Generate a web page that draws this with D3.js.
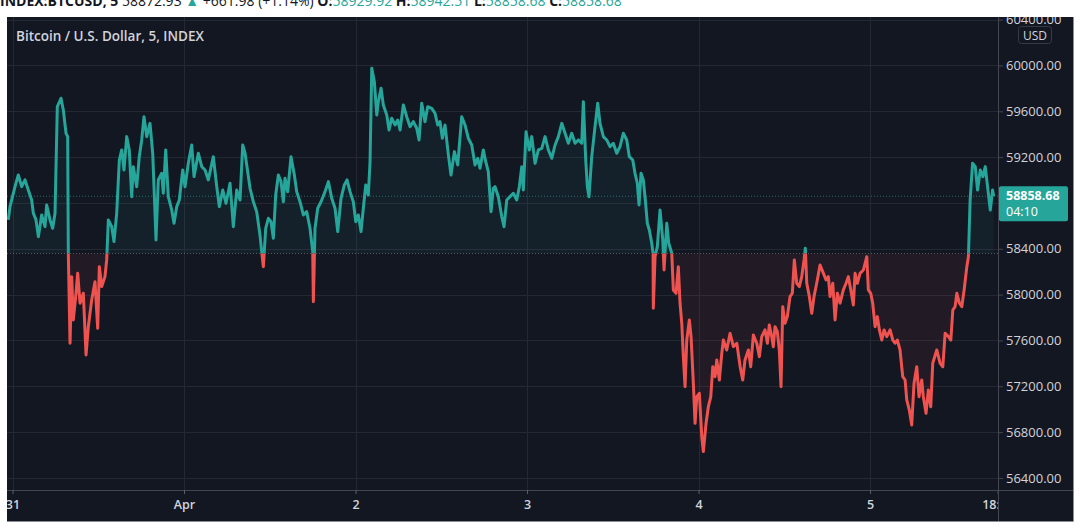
<!DOCTYPE html>
<html><head><meta charset="utf-8">
<script src="https://cdn.jsdelivr.net/npm/d3@7"></script>
<style>
html,body{margin:0;padding:0;background:#ffffff;}
svg{display:block;}
text{font-family:"Open Sans","Noto Sans",sans-serif;}
</style>
</head><body>
<svg id="c" width="1080" height="531"></svg>
<script>
// ---- data (hours since 2021-03-31 00:00, price USD) ----
const btcPoints = [
[-0.59,58652],[-0.35,58768],[0.35,58942],[0.81,59044],[1.28,58942],[1.75,59001],[2.21,58913],[2.68,58826],[2.92,58710],[3.29,58652],[3.62,58506],[4.08,58695],[4.55,58593],[4.78,58783],[5.25,58652],[5.62,58579],[5.95,58710],[6.27,59640],[6.79,59714],[7.11,59612],[7.49,59408],[7.72,59379],[7.81,58361],[8.05,57576],[8.28,58157],[8.51,57779],[8.89,58012],[9.12,58187],[9.45,57925],[9.91,58012],[10.29,57474],[10.61,57720],[11.08,57953],[11.54,58113],[11.92,57706],[12.15,58244],[12.48,58070],[12.94,58157],[13.18,58303],[13.41,58652],[13.88,58593],[14.2,58463],[14.58,58710],[14.95,59175],[15.28,59263],[15.6,59088],[15.98,59379],[16.34,59263],[16.68,58855],[16.9,59117],[17.38,58942],[17.74,59204],[18.08,59350],[18.4,59553],[18.78,59379],[19.24,59495],[19.62,59234],[19.8,58942],[20.08,58477],[20.4,59001],[20.88,59059],[21.1,58885],[21.44,59263],[21.8,58855],[22.28,58739],[22.6,58623],[22.98,58768],[23.34,58826],[23.82,59088],[24.14,58942],[24.6,59146],[25.08,59306],[25.4,59030],[26.0,59234],[26.48,59117],[26.94,59088],[27.4,59001],[28.1,59204],[28.58,58942],[28.94,58768],[29.42,58913],[29.88,58797],[30.44,58972],[30.9,58593],[31.37,58913],[31.84,58826],[32.21,59306],[32.54,59234],
[33.24,58928],[33.7,58811],[34.17,58724],[34.63,58521],[34.87,58375],[35.1,58244],[35.43,58579],[35.8,58666],[36.17,58637],[36.5,58492],[36.83,58870],[37.2,59044],[37.57,58986],[37.9,58811],[38.13,59015],[38.51,58899],[38.97,59204],[39.44,59044],[39.77,58899],[40.23,58811],[40.7,58695],[41.17,58724],[41.63,58579],[42.01,58375],[42.1,57939],[42.33,58579],[42.71,58754],[43.17,58811],[43.73,58899],[44.2,58986],[44.67,58841],[45.13,58754],[45.51,58550],[45.97,58841],[46.43,58957],[46.81,59001],[47.23,58899],[47.69,58811],[48.03,58637],[48.39,58695],[48.77,58550],[49.09,58754],[49.43,58957],[49.79,58870],[50.03,59160],[50.27,59976],[50.63,59859],[50.97,59568],[51.19,59684],[51.57,59801],[51.89,59655],[52.37,59568],[52.69,59437],[53.06,59539],[53.53,59481],[53.9,59524],[54.23,59437],[54.69,59655],[55.16,59553],[55.63,59466],[56.09,59510],[56.56,59452],[56.89,59350],[57.26,59670],[57.72,59510],[58.1,59640],[58.66,59626],[59.12,59583],[59.5,59481],[59.82,59510],[60.15,59365],[60.52,59481],[60.99,59219],[61.36,59044],[61.83,59248],[62.3,59132],[62.86,59553],[63.32,59481],[63.78,59365],[64.26,59306],[64.72,59132],[65.1,59190],[65.42,59103],[65.88,59263],[66.22,59160],[66.58,59073],[66.96,58724],[67.28,58928],
[67.52,58942],[67.98,58855],[68.46,58681],[68.78,58593],[69.16,58826],[69.62,58855],[70.08,58885],[70.56,58826],[70.92,58942],[71.26,59117],[71.48,58913],[71.86,59422],[72.32,59263],[72.66,59379],[73.12,59146],[73.58,59263],[74.06,59277],[74.52,59379],[74.98,59263],[75.46,59190],[75.92,59306],[76.38,59379],[76.86,59495],[77.32,59408],[77.78,59321],[78.25,59408],[78.72,59321],[79.18,59350],[79.65,59321],[79.88,59684],[80.21,59175],[80.44,58942],[80.67,58855],[81.05,59204],[81.51,59466],[81.89,59670],[82.21,59495],[82.68,59379],[83.15,59350],[83.61,59292],[84.07,59321],[84.55,59234],[85.01,59292],[85.47,59408],[85.95,59350],[86.31,59204],[86.79,59175],[87.11,59059],[87.43,58972],[87.67,58783],[87.95,59059],[88.27,59001],[88.55,58826],[88.83,58623],[89.11,58564],[89.45,58448],[89.63,58361],[89.67,57881],[89.91,58331],[90.23,58419],[90.61,58739],[90.99,58477],[91.17,58215],[91.55,58623],[91.83,58448],[92.25,58361],[92.47,58041],[92.85,58012],[93.17,58244],[93.41,57925],[93.65,57750],[93.87,57459],[94.11,57197],[94.35,57604],[94.71,57779],[94.95,57633],[95.27,57226],[95.51,56877],[95.75,57109],[96.11,57139],[96.45,56760],[96.67,56630],[97.05,56877],[97.37,57022],[97.71,57109],[97.99,57371],[98.31,57284],[98.55,57430],[98.91,57255],[99.25,57488],[99.47,57604],[99.94,57517],[100.41,57662],[100.87,57546],[101.35,57576],[101.82,57371],
[102.18,57255],[102.5,57430],[102.97,57517],[103.3,57371],[103.67,57648],[104.14,57576],[104.51,57459],[104.84,57633],[105.3,57692],[105.63,57576],[105.9,57735],[106.24,57633],[106.46,57546],[106.7,57720],[107.02,57677],[107.3,57517],[107.54,57197],[107.78,57895],[108.1,57750],[108.42,57808],[108.8,57983],[109.12,58012],[109.4,58303],[109.74,58099],[110.1,58070],[110.44,58157],[110.76,58303],[110.94,58405],[111.14,58099],[111.5,57983],[111.84,57837],[112.16,57983],[112.62,58128],[113.0,58259],[113.47,58186],[113.84,58128],[114.16,58157],[114.4,57983],[114.78,58099],[115.1,57779],[115.42,58012],[115.8,57925],[116.26,58041],[116.64,58099],[116.96,58157],[117.3,58041],[117.66,57910],[117.9,58186],[118.22,58099],[118.6,58186],[119.06,58215],[119.54,58331],[119.76,58041],[120.09,58012],[120.37,57925],[120.7,57720],[121.02,57808],[121.3,57692],[121.64,57604],[121.96,57692],[122.34,57633],[122.8,57692],[123.18,57604],[123.5,57576],[123.82,57604],[124.19,57517],[124.57,57284],[124.9,57255],[125.13,57081],[125.49,56993],[125.83,56863],[126.15,57226],[126.53,57371],[126.85,57109],[127.23,57255],[127.45,57109],[127.83,56965],[128.15,57168],[128.49,57022],[128.77,57401],[129.33,57517],[129.8,57401],[130.18,57371],[130.5,57662],[130.97,57633],[131.3,57604],[131.58,57866],[131.9,57895],[132.14,58012],[132.5,57925],[132.84,57895],[133.16,58041],[133.54,58244],[133.76,58331],[134.0,58826],[134.34,59146],[134.72,59117],[135.04,58913],[135.42,59088],[135.79,59030],[136.12,59117],[136.44,58942],[136.82,58739],[137.14,58913],[137.3,58858.68]
];
const priceTicks = [56400,56800,57200,57600,58000,58400,59200,59600,60000,60400];
const gridPriceTicks = [56400,56800,57200,57600,58000,58400,58800,59200,59600,60000,60400];
const timeTickHours = [0,24,48,72,96,120,137.85];
const timeTickLabels = ["31","Apr","2","3","4","5","18:00"];
const priceDomain = [56295,60423];
const timeDomainHours = [-0.77,137.9];
const lastPrice = 58858.68;
const countdown = "04:10";
const titleText = "Bitcoin / U.S. Dollar, 5, INDEX";
const headerParts = [
  {t:"INDEX:BTCUSD, 5 ", c:"#131722", w:700},
  {t:"58872.93 ", c:"#131722", w:400},
  {t:"\u25B2 ", c:"#26a69a", w:400},
  {t:"+661.98 (+1.14%) ", c:"#131722", w:400},
  {t:"O:", c:"#131722", w:700},{t:"58929.92 ", c:"#26a69a", w:400},
  {t:"H:", c:"#131722", w:700},{t:"58942.51 ", c:"#26a69a", w:400},
  {t:"L:", c:"#131722", w:700},{t:"58858.68 ", c:"#26a69a", w:400},
  {t:"C:", c:"#131722", w:700},{t:"58858.68", c:"#26a69a", w:400}
];

// ---- layout ----
const svg = d3.select("#c");
const chart = {l:7, t:17, r:1073, b:521};
const plot = {l:7, t:17, r:998, b:490};
const UP = "#26a69a", DOWN = "#ef5350", BG = "#131722", GRID = "#242833", TXT = "#d1d4dc";
const FONT = '"Open Sans","Noto Sans",sans-serif';
const t0 = new Date(2021, 2, 31, 0, 0);
const toDate = h => new Date(t0.getTime() + h * 3600e3);

const x = d3.scaleTime().domain(timeDomainHours.map(toDate)).range([plot.l, plot.r]);
const y = d3.scaleLinear().domain(priceDomain).range([plot.b, plot.t]);
const baseValue = (priceDomain[0] + priceDomain[1]) / 2;
const yBase = y(baseValue);

const data = btcPoints.map(([h, p]) => ({d: toDate(h), p}));

// header
const hdr = svg.append("text").attr("x", 0).attr("y", 6).attr("font-size", 14);
headerParts.forEach(s => hdr.append("tspan").attr("fill", s.c).attr("font-weight", s.w).attr("xml:space","preserve").text(s.t));

// background
svg.append("rect").attr("x", chart.l).attr("y", chart.t).attr("width", chart.r - chart.l).attr("height", chart.b - chart.t).attr("fill", BG);
svg.append("path").attr("d", `M${chart.r+0.5},${chart.t}V${chart.b+0.5}H${chart.l}`).attr("stroke", "#8a8d96").attr("fill","none").attr("stroke-width",1);

const defs = svg.append("defs");
defs.append("clipPath").attr("id", "plotClip").append("rect").attr("x", plot.l).attr("y", plot.t).attr("width", plot.r - plot.l).attr("height", plot.b - plot.t);
defs.append("clipPath").attr("id", "upClip").append("rect").attr("x", plot.l).attr("y", plot.t).attr("width", plot.r - plot.l).attr("height", yBase - plot.t);
defs.append("clipPath").attr("id", "downClip").append("rect").attr("x", plot.l).attr("y", yBase).attr("width", plot.r - plot.l).attr("height", plot.b - yBase);
defs.append("clipPath").attr("id", "timeClip").append("rect").attr("x", plot.l).attr("y", plot.b).attr("width", plot.r - plot.l).attr("height", chart.b - plot.b);
defs.append("clipPath").attr("id", "priceClip").append("rect").attr("x", plot.r).attr("y", chart.t).attr("width", chart.r - plot.r).attr("height", plot.b - chart.t);

// grid
const grid = svg.append("g").attr("clip-path", "url(#plotClip)");
grid.selectAll("line.h").data(gridPriceTicks).join("line")
  .attr("x1", plot.l).attr("x2", plot.r).attr("y1", d => Math.round(y(d)) + 0.5).attr("y2", d => Math.round(y(d)) + 0.5)
  .attr("stroke", GRID).attr("stroke-width", 1);
grid.selectAll("line.v").data(timeTickHours.slice(0, 6)).join("line")
  .attr("y1", plot.t).attr("y2", plot.b).attr("x1", d => Math.round(x(toDate(d))) + 0.5).attr("x2", d => Math.round(x(toDate(d))) + 0.5)
  .attr("stroke", GRID).attr("stroke-width", 1);

// areas and lines
const area = d3.area().x(d => x(d.d)).y0(yBase).y1(d => y(d.p));
const line = d3.line().x(d => x(d.d)).y(d => y(d.p));
svg.append("path").datum(data).attr("d", area).attr("fill", UP).attr("fill-opacity", 0.07).attr("clip-path", "url(#upClip)");
svg.append("path").datum(data).attr("d", area).attr("fill", DOWN).attr("fill-opacity", 0.07).attr("clip-path", "url(#downClip)");

// baseline & last price dotted lines
svg.append("line").attr("x1", plot.l).attr("x2", plot.r).attr("y1", yBase).attr("y2", yBase)
  .attr("stroke", "#9598a1").attr("stroke-opacity", 0.5).attr("stroke-dasharray", "1,2");
svg.append("line").attr("x1", plot.l).attr("x2", plot.r).attr("y1", y(lastPrice)).attr("y2", y(lastPrice))
  .attr("stroke", UP).attr("stroke-opacity", 0.6).attr("stroke-dasharray", "1,2");

svg.append("path").datum(data).attr("d", line).attr("fill", "none").attr("stroke", UP).attr("stroke-width", 3).attr("stroke-linejoin", "round").attr("clip-path", "url(#upClip)");
svg.append("path").datum(data).attr("d", line).attr("fill", "none").attr("stroke", DOWN).attr("stroke-width", 3).attr("stroke-linejoin", "round").attr("clip-path", "url(#downClip)");

// title
svg.append("text").attr("x", 16).attr("y", 41).attr("fill", TXT).attr("font-size", 13.5).attr("font-weight", 600).text(titleText);

// axis separators
svg.append("line").attr("x1", plot.r + 0.5).attr("x2", plot.r + 0.5).attr("y1", chart.t).attr("y2", chart.b).attr("stroke", "#434651");
svg.append("line").attr("x1", chart.l).attr("x2", chart.r).attr("y1", plot.b + 0.5).attr("y2", plot.b + 0.5).attr("stroke", "#434651");

// price axis
const yAxis = d3.axisRight(y).tickValues(priceTicks).tickFormat(d3.format(".2f")).tickSize(5).tickPadding(3);
const ya = svg.append("g").attr("clip-path", "url(#priceClip)")
  .append("g").attr("transform", `translate(${plot.r},0)`).call(yAxis);
ya.select(".domain").remove();
ya.selectAll(".tick line").attr("stroke", "#434651");
ya.selectAll(".tick text").attr("fill", TXT).attr("font-size", 13).attr("font-family", FONT);

// USD badge
svg.append("rect").attr("x", 1018.5).attr("y", 26.5).attr("width", 33).attr("height", 17).attr("rx", 3).attr("fill", BG).attr("stroke", "#363a45");
svg.append("text").attr("x", 1035).attr("y", 39.5).attr("text-anchor", "middle").attr("fill", TXT).attr("font-size", 12).text("USD");

// last price badge
const yl = y(lastPrice);
svg.append("rect").attr("x", plot.r + 1).attr("y", yl - 10).attr("width", 69).attr("height", 35).attr("rx", 2).attr("fill", UP);
svg.append("text").attr("x", 1006).attr("y", yl + 3.5).attr("fill", "#ffffff").attr("font-size", 12.5).attr("font-weight", 700).text(d3.format(".2f")(lastPrice));
svg.append("text").attr("x", 1006).attr("y", yl + 20).attr("fill", "#ffffff").attr("font-size", 12.5).text(countdown);

// time axis
const xAxis = d3.axisBottom(x).tickValues(timeTickHours.map(toDate)).tickFormat((d, i) => timeTickLabels[i]).tickSize(4).tickPadding(6);
const xa = svg.append("g").attr("clip-path", "url(#timeClip)")
  .append("g").attr("transform", `translate(0,${plot.b})`).call(xAxis);
xa.select(".domain").remove();
xa.selectAll(".tick line").attr("stroke", "#5d606b");
xa.selectAll(".tick text").attr("fill", TXT).attr("font-size", 12.5).attr("font-weight", 600).attr("font-family", FONT);
</script>
</body></html>
